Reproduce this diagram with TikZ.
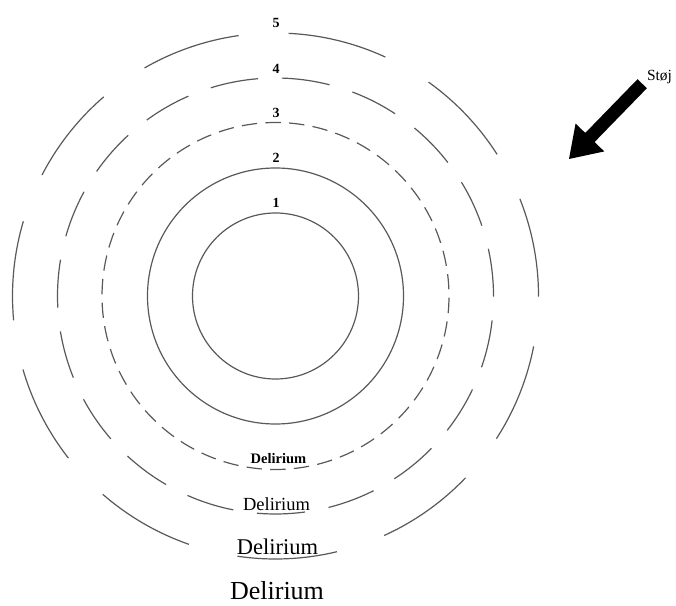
\documentclass[tikz,border=0pt]{standalone}
\usepackage{fontspec}
\setmainfont{Liberation Serif}
\begin{document}
\begin{tikzpicture}[x=1pt,y=1pt,
  ring/.style={draw=black!65, line width=1.2pt},
  num/.style={font=\bfseries\fontsize{14}{14}\selectfont, anchor=base, inner sep=0pt},
  lbl/.style={anchor=base, inner sep=0pt},
]
\useasboundingbox (0,0) rectangle (676,605);
\coordinate (c) at (275.5,309);
% rings 1 and 2
\draw[ring] (c) circle[radius=83];
\draw[ring] (c) circle[radius=128];
% ring 3 (short dashes)
\foreach \i in {0,...,45}{
  \pgfmathsetmacro{\s}{88.25+\i*360/46}
  \draw[ring] (c) ++(\s:173.5) arc[start angle=\s, delta angle=5.09, radius=173.5];
}
% ring 4
\foreach \i in {0,...,18}{
  \pgfmathsetmacro{\s}{94.6+\i*360/19}
  \draw[ring] (c) ++(\s:218) arc[start angle=\s, delta angle=12.65, radius=218];
}
% ring 5
\foreach \i in {0,...,10}{
  \pgfmathsetmacro{\s}{98.05+\i*360/11}
  \draw[ring] (c) ++(\s:263) arc[start angle=\s, delta angle=21.82, radius=263];
}
% numbers
\node[num] (n1) at (276,397) {1};
\node[num] (n2) at (276,442) {2};
\node[num] (n3) at (276,487) {3};
\node[num] (n4) at (276,531) {4};
\node[num] (n5) at (276,577) {5};
% Delirium labels
\node[lbl, font=\bfseries\fontsize{14.5}{14.5}\selectfont] (d1) at (278.5,142) {Delirium};
\node[lbl, font=\fontsize{18.5}{18.5}\selectfont] (d2) at (276.5,95) {Delirium};
\node[lbl, font=\fontsize{22.5}{22.5}\selectfont] (d3) at (277.5,51) {Delirium};
\node[lbl, font=\fontsize{26}{26}\selectfont] (d4) at (277,6) {Delirium};
% noise arrow
\node[lbl, font=\fontsize{15.5}{15.5}\selectfont] (st) at (659.5,524) {Støj};
\fill[black, shift={(569,446)}, rotate=45.8]
  (0,0) -- (30,20) -- (30,6.5) -- (105,6.5) -- (105,-6.5) -- (30,-6.5) -- (30,-20) -- cycle;
\end{tikzpicture}
\end{document}
